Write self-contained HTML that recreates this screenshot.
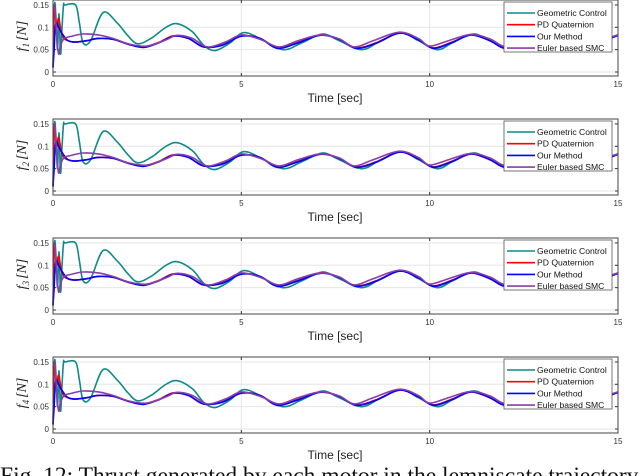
<!DOCTYPE html>
<html><head><meta charset="utf-8"><style>
html,body{margin:0;padding:0;background:#fff;width:640px;height:476px;overflow:hidden}
svg{display:block}
</style></head><body>
<svg id="chart" width="640" height="476" viewBox="0 0 640 476" xmlns="http://www.w3.org/2000/svg"></svg>
<script>
const teal_t=[0,0.04,0.08,0.12,0.16,0.2,0.24,0.28,0.32,0.6,0.7,0.8,1.0,1.33,1.7,2.0,2.25,2.6,3.0,3.3,3.7,4.0,4.3,4.7,5.05,5.5,6.1,6.6,7.15,7.6,8.2,8.7,9.25,9.7,10.2,10.6,11.15,11.6,12.1,12.5,13.05,13.5,14.0,14.5,15];
const teal_v=[0.01,0.15,0.12,0.05,0.13,0.04,0.1,0.15,0.15,0.15,0.11,0.065,0.07,0.133,0.11,0.08,0.063,0.075,0.1,0.108,0.09,0.06,0.048,0.065,0.088,0.075,0.05,0.065,0.085,0.07,0.05,0.07,0.088,0.07,0.05,0.065,0.085,0.07,0.05,0.065,0.085,0.07,0.052,0.065,0.083];
const red_t=[0,0.03,0.06,0.1,0.15,0.25,0.4,0.6,0.9,1.2,1.6,2.0,2.4,2.8,3.2,3.6,4.0,4.5,5.0,5.5,5.95,6.5,7.1,7.6,8.05,8.6,9.2,9.7,10.1,10.6,11.1,11.6,12.0,12.5,13.05,13.5,13.95,14.5,15];
const red_v=[0.01,0.14,0.13,0.1,0.12,0.08,0.07,0.067,0.07,0.075,0.073,0.062,0.056,0.066,0.081,0.075,0.056,0.061,0.081,0.075,0.054,0.066,0.083,0.073,0.054,0.066,0.087,0.072,0.054,0.067,0.083,0.07,0.054,0.067,0.084,0.07,0.054,0.067,0.082];
const blue_t=[0,0.03,0.06,0.1,0.15,0.25,0.4,0.6,0.9,1.2,1.6,2.0,2.4,2.8,3.2,3.6,4.0,4.5,5.0,5.5,5.95,6.5,7.1,7.6,8.05,8.6,9.2,9.7,10.1,10.6,11.1,11.6,12.0,12.5,13.05,13.5,13.95,14.5,15];
const blue_v=[0.01,0.05,0.1,0.11,0.1,0.085,0.07,0.067,0.07,0.075,0.073,0.062,0.055,0.065,0.08,0.075,0.056,0.06,0.08,0.075,0.053,0.065,0.082,0.073,0.053,0.065,0.087,0.072,0.053,0.066,0.083,0.07,0.053,0.066,0.084,0.07,0.053,0.066,0.082];
const purple_t=[0,0.05,0.1,0.15,0.2,0.3,0.5,0.8,1.2,1.6,2.0,2.5,3.0,3.3,3.7,4.1,4.6,5.0,5.5,6.0,6.5,7.1,7.6,8.0,8.5,9.2,9.7,10.0,10.5,11.1,11.6,12.0,12.5,13.0,13.5,13.9,14.4,15];
const purple_v=[0.15,0.14,0.08,0.04,0.06,0.075,0.08,0.085,0.083,0.075,0.063,0.058,0.072,0.082,0.075,0.056,0.068,0.083,0.073,0.056,0.07,0.083,0.074,0.056,0.07,0.089,0.075,0.058,0.07,0.084,0.074,0.057,0.07,0.085,0.074,0.056,0.068,0.083];
const yTicks=[0,0.05,0.1,0.15];
const yTickLabels=["0","0.05","0.1","0.15"];
const xTicks=[0,5,10,15];
const legendLabels=["Geometric Control","PD Quaternion","Our Method","Euler based SMC"];
const panelBases=[72,191,310,429];

const NS="http://www.w3.org/2000/svg";
const svg=document.getElementById('chart');
function mk(tag,attrs,parent){const e=document.createElementNS(NS,tag);for(const k in attrs)e.setAttribute(k,attrs[k]);(parent||svg).appendChild(e);return e;}
const X0=53,X1=618,TMAX=15,YS=447;
function xs(t){return X0+(X1-X0)*t/TMAX;}
function smooth(pts){let d='M'+pts[0][0].toFixed(2)+','+pts[0][1].toFixed(2);
 for(let i=0;i<pts.length-1;i++){const p0=pts[Math.max(0,i-1)],p1=pts[i],p2=pts[i+1],p3=pts[Math.min(pts.length-1,i+2)];
  const c1=[p1[0]+(p2[0]-p0[0])/6,p1[1]+(p2[1]-p0[1])/6],c2=[p2[0]-(p3[0]-p1[0])/6,p2[1]-(p3[1]-p1[1])/6];
  d+=' C'+c1[0].toFixed(2)+','+c1[1].toFixed(2)+' '+c2[0].toFixed(2)+','+c2[1].toFixed(2)+' '+p2[0].toFixed(2)+','+p2[1].toFixed(2);}
 return d;}
const series=[[teal_t,teal_v,'#0f8a8a','geometric-control-line'],[red_t,red_v,'#ff0000','pd-quaternion-line'],[blue_t,blue_v,'#0000ff','our-method-line'],[purple_t,purple_v,'#8a3ea8','euler-smc-line']];

panelBases.forEach((b,pi)=>{
 const g=mk('g',{});
 
 
 const ys=v=>b-v*YS;
 const top=b-72,bot=b+4;
 const bg=mk('rect',{x:X0,y:top,width:X1-X0,height:bot-top,fill:'#fff'},g);
 
 
 yTicks.forEach((v,i)=>{
  const l=mk('line',{x1:X0,x2:X1,y1:ys(v),y2:ys(v),stroke:'#e6e6e6','stroke-width':1},g);
  
  
  const t=mk('text',{x:X0-4,y:ys(v)+3,'text-anchor':'end','font-size':'8','font-family':'Liberation Sans, sans-serif',fill:'#333'},g);
  t.textContent=yTickLabels[i];
  
  
  mk('line',{x1:X0,x2:X0+3,y1:ys(v),y2:ys(v),stroke:'#333'},g);
  mk('line',{x1:X1,x2:X1-3,y1:ys(v),y2:ys(v),stroke:'#333'},g);
 });
 xTicks.forEach(v=>{
  const l=mk('line',{x1:xs(v),x2:xs(v),y1:top,y2:bot,stroke:'#e6e6e6'},g);
  
  
  mk('line',{x1:xs(v),x2:xs(v),y1:bot,y2:bot-3,stroke:'#333'},g);
  mk('line',{x1:xs(v),x2:xs(v),y1:top,y2:top+3,stroke:'#333'},g);
  const t=mk('text',{x:xs(v),y:b+15,'text-anchor':'middle','font-size':'8','font-family':'Liberation Sans, sans-serif',fill:'#333'},g);
  t.textContent=String(v);
  
  
 });
 series.forEach(s=>{
  const pts=s[0].map((t,i)=>[xs(t),ys(s[1][i])]);
  const p=mk('path',{d:smooth(pts),fill:'none',stroke:s[2],'stroke-width':1.6,'stroke-linejoin':'round'},g);
  
  
 });
 const frame=mk('rect',{x:X0,y:top,width:X1-X0,height:bot-top,fill:'none',stroke:'#444','stroke-width':1},g);
 
 
 const yl=mk('text',{transform:'translate(26,'+(b-36)+') rotate(-90)','text-anchor':'middle','font-size':'14','font-family':'Liberation Serif, serif','font-style':'italic',fill:'#222'},g);
 yl.innerHTML='f<tspan font-size="9" dy="3">'+(pi+1)+'</tspan><tspan dy="-3" dx="2">[N]</tspan>';
 
 
 const xl=mk('text',{x:335,y:b+30,'text-anchor':'middle','font-size':'12','font-family':'Liberation Sans, sans-serif',fill:'#222'},g);
 xl.textContent='Time [sec]';
 
 
 const lg=mk('g',{},g);
 
 
 mk('rect',{x:504,y:top+2,width:108,height:50,fill:'#fff',stroke:'#555','stroke-width':0.8},lg);
 legendLabels.forEach((lab,i)=>{
  const yy=top+13+i*11.7;
  mk('line',{x1:507,x2:535,y1:yy,y2:yy,stroke:series[i][2],'stroke-width':1.6},lg);
  const t=mk('text',{x:537,y:yy+3,'font-size':'8.6','font-family':'Liberation Sans, sans-serif',fill:'#111'},lg);
  t.textContent=lab;
  
  
 });
});
const cap=mk('text',{x:0,y:483,'font-size':'23.5','font-family':'Liberation Serif, serif',fill:'#111'});
cap.textContent='Fig. 12: Thrust generated by each motor in the lemniscate trajectory';


</script>
</body></html>
